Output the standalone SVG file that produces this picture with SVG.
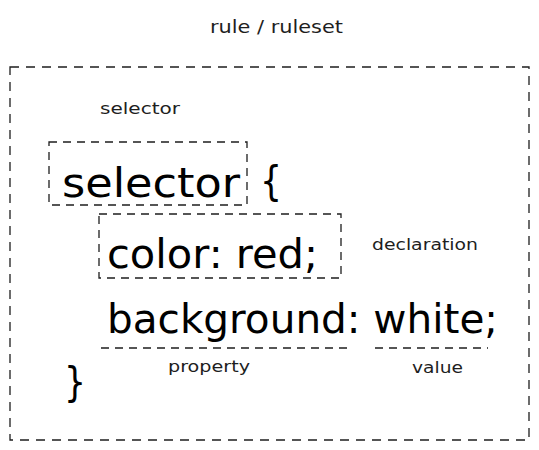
<svg xmlns="http://www.w3.org/2000/svg" width="539" height="450" viewBox="0 0 539 450">
<style>
.box{fill:none;stroke:#1e1e1e;stroke-width:1.3;stroke-dasharray:9 7}
.big{font-family:"DejaVu Sans",sans-serif;font-size:40px;fill:#000}
.small{font-family:"DejaVu Sans",sans-serif;font-size:15px;fill:#1e1e1e}
</style>
<rect width="539" height="450" fill="#fff"/>
<g id="title"><text class="small" x="210" y="33" style="font-size:18px" textLength="133" lengthAdjust="spacingAndGlyphs">rule / ruleset</text></g>
<g id="ruleset"><rect class="box" x="10" y="67" width="519" height="373"/></g>
<g id="selector-label"><text class="small" x="100" y="114" textLength="80" lengthAdjust="spacingAndGlyphs">selector</text></g>
<g id="selector">
<rect class="box" x="49" y="142" width="198" height="63" style="stroke-dasharray:8 6"/>
<text class="big" x="62" y="197" textLength="178" lengthAdjust="spacingAndGlyphs">selector</text>
</g>
<g id="open-brace"><text class="big" x="260" y="195" textLength="22" lengthAdjust="spacingAndGlyphs">{</text></g>
<g id="declaration">
<rect class="box" x="99" y="214" width="242" height="64" style="stroke-dasharray:8 6"/>
<text class="big" x="107" y="268" textLength="211" lengthAdjust="spacingAndGlyphs">color: red;</text>
</g>
<g id="declaration-label"><text class="small" x="372" y="250" textLength="106" lengthAdjust="spacingAndGlyphs">declaration</text></g>
<g id="declaration2"><text class="big" x="107" y="333" textLength="391" lengthAdjust="spacingAndGlyphs">background: white;</text></g>
<g id="connectors">
<line class="box" x1="101" y1="348" x2="350" y2="348" style="stroke-dasharray:8 6"/>
<line class="box" x1="375" y1="348" x2="488" y2="348" style="stroke-dasharray:8 6"/>
</g>
<g id="property-label"><text class="small" x="168" y="372" textLength="82" lengthAdjust="spacingAndGlyphs">property</text></g>
<g id="value-label"><text class="small" x="412" y="373" textLength="51" lengthAdjust="spacingAndGlyphs">value</text></g>
<g id="close-brace"><text class="big" x="64" y="396" textLength="22" lengthAdjust="spacingAndGlyphs">}</text></g>
</svg>
